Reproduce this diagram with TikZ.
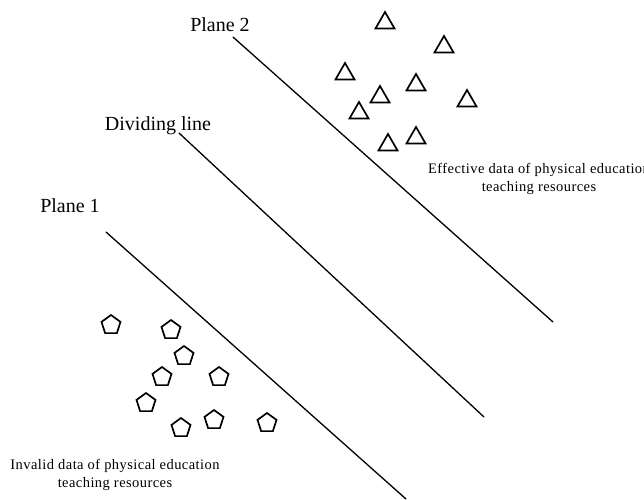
\documentclass[tikz,border=0pt]{standalone}
\usepackage{fontspec}
\setmainfont{Liberation Serif}
\usetikzlibrary{shapes.geometric}

\begin{document}
\begin{tikzpicture}[x=1pt,y=-1pt]
    \tikzset{planeline/.style={line width=1.3pt,line cap=round},
      effmark/.style={draw,line width=1.7pt,regular polygon,regular polygon sides=3,
        minimum size=22pt,inner sep=0pt},
      invmark/.style={draw,line width=1.7pt,regular polygon,regular polygon sides=5,
        minimum size=20pt,inner sep=0pt},
      biglabel/.style={font=\fontsize{20}{24}\selectfont,inner sep=0pt,anchor=base},
      grouplabel/.style={font=\fontsize{14.5}{17.5}\selectfont\addfontfeatures{LetterSpace=3},
        align=center,inner sep=0pt}}
    \useasboundingbox (0,0) rectangle (644,499);
    % the three parallel lines
    \coordinate (p2a) at (233,37);  \coordinate (p2b) at (553,322);
    \coordinate (dla) at (179,133); \coordinate (dlb) at (484,417);
    \coordinate (p1a) at (106,232); \coordinate (p1b) at (406,499);
    \draw[planeline] (p2a) -- (p2b);
    \draw[planeline] (dla) -- (dlb);
    \draw[planeline] (p1a) -- (p1b);
    \node[biglabel] (p2lab) at (220,31) {Plane 2};
    \node[biglabel] (dllab) at (158,130) {Dividing line};
    \node[biglabel] (p1lab) at (70,212) {Plane 1};
    % effective samples
    \foreach \px/\py [count=\i] in {385/23,444/47,345/74,416/85,380/97,467/101,359/113,416/138,388/145}
      \node[effmark] (tri\i) at (\px,\py) {};
    % invalid samples
    \foreach \px/\py [count=\i] in {111/325,171/330,184/356,162/377,219/377,146/403,181/428,214/420,267/423}
      \node[invmark] (pent\i) at (\px,\py) {};
    \node[grouplabel] (efflab) at (539,179) {Effective data of physical education\\teaching resources};
    \node[grouplabel] (invlab) at (115,475) {Invalid data of physical education\\teaching resources};
  \end{tikzpicture}
\end{document}
